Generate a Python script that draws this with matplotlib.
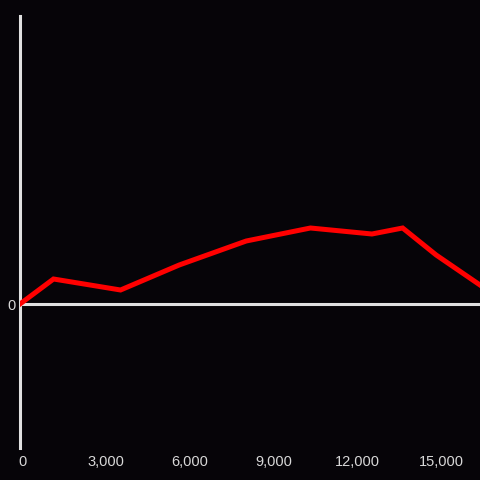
import numpy as np
import matplotlib.pyplot as plt
import matplotlib.transforms as mtransforms

# Data
x_vals = [0, 1200, 3600, 5700, 8100, 10400, 12600, 13700, 14900, 16470]
y_vals = [0, 2.5, 1.4, 3.9, 6.3, 7.6, 7.0, 7.6, 4.9, 1.9]
x_ticks = [0, 3000, 6000, 9000, 12000, 15000]
x_tick_labels = ['0', '3,000', '6,000', '9,000', '12,000', '15,000']

bg = '#060408'
axis_col = '#e0e0e0'
text_col = '#d8d8d8'

plt.rcParams['font.family'] = ['Liberation Sans', 'DejaVu Sans']

fig = plt.figure(figsize=(4.8, 4.8), dpi=100, facecolor=bg)
ax = fig.add_axes([20 / 480, 32 / 480, 460 / 480, 432 / 480], facecolor=bg)

ax.plot(x_vals, y_vals, color='#ff0000', linewidth=3.6, solid_joinstyle='miter', zorder=3)
ax.axhline(0, color=axis_col, linewidth=2.2, zorder=2)

ax.set_xlim(0, 16470)
ax.set_ylim(-14.4, 28.8)

for s in ['top', 'right', 'bottom']:
    ax.spines[s].set_visible(False)
ax.spines['left'].set_color(axis_col)
ax.spines['left'].set_linewidth(2.2)

ax.set_xticks(x_ticks)
ax.set_xticklabels(x_tick_labels)
ax.set_yticks([0])
ax.set_yticklabels(['0'])
ax.tick_params(axis='both', length=0, colors=text_col, labelsize=10.5)
ax.tick_params(axis='x', pad=4.8)
ax.tick_params(axis='y', pad=3)

# small nudge to the right, like the reference
shift = mtransforms.ScaledTranslation(2.5 / 100, 0, fig.dpi_scale_trans)
for lbl in ax.get_xticklabels():
    lbl.set_transform(lbl.get_transform() + shift)

fig.savefig('out.png', dpi=100, facecolor=bg)
